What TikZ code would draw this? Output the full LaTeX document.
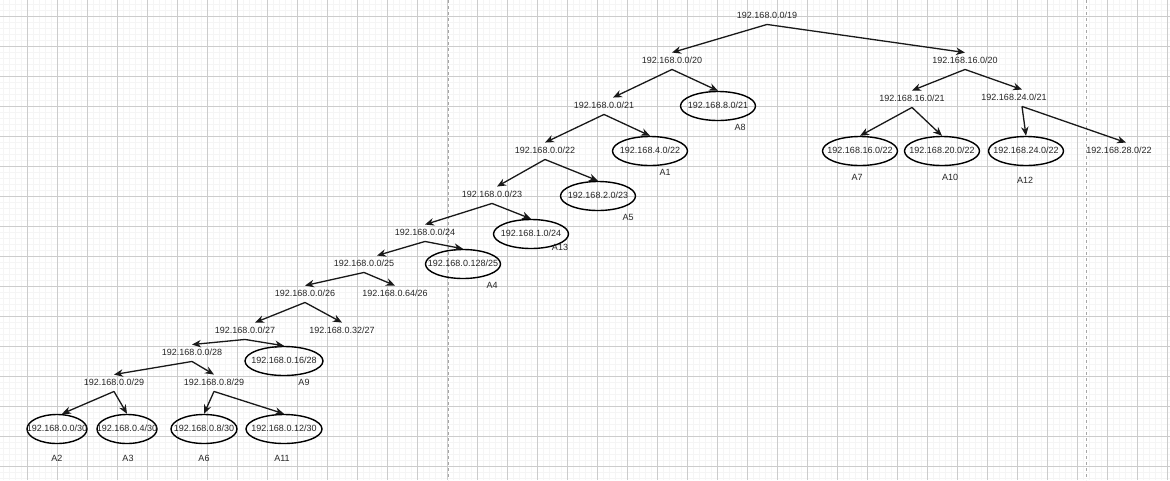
\documentclass[tikz,border=0pt]{standalone}
\usepackage{fontspec}
\setmainfont{Liberation Sans}
\usetikzlibrary{shapes.geometric}
\usetikzlibrary{arrows.meta}
\newcommand{\ipbox}[1]{\makebox[0pt]{#1}}

\begin{document}
\begin{tikzpicture}[x=1pt,y=-1pt,
	pfx/.style={font=\fontsize{9}{10}\selectfont, text=black!85, inner xsep=2pt, inner ysep=4.5pt, text height=6.5pt, text depth=1pt},
	net/.style={pfx, ellipse, draw=black, line width=1.4pt, minimum height=29pt, minimum width=#1, inner sep=0pt},
	net/.default=75pt,
	tag/.style={pfx},
	link/.style={-{Stealth[length=9pt,width=7.5pt]}, line width=1.3pt, black!90},
	minor/.style={draw=black!4, line width=0.5pt},
	major/.style={draw=black!20, line width=0.8pt},
	divider/.style={draw=black!35, dashed, line width=0.8pt}]
	\useasboundingbox (0,0) rectangle (1170,480);
	\fill[white] (0,0) rectangle (1170,480);
	% background grid
	\foreach \gx in {3.3,9.3,...,1170} \draw[minor] (\gx,0) -- (\gx,480);
	\foreach \gy in {4,10,...,480} \draw[minor] (0,\gy) -- (1170,\gy);
	\foreach \gx in {27.3,57.3,...,1170} \draw[major] (\gx,0) -- (\gx,480);
	\foreach \gy in {16,46,...,480} \draw[major] (0,\gy) -- (1170,\gy);
	\draw[divider] (448,0) -- (448,480);
	\draw[divider] (1086,0) -- (1086,480);
	
	% prefixes that are split further
	\node[pfx] (r19) at (767,16) {192.168.0.0/19};
	\node[pfx] (a20) at (672,61) {192.168.0.0/20};
	\node[pfx] (b20) at (965,61) {192.168.16.0/20};
	\node[pfx] (a21) at (604,106) {192.168.0.0/21};
	\node[pfx] (a22) at (545,151) {192.168.0.0/22};
	\node[pfx] (a23) at (492,195) {192.168.0.0/23};
	\node[pfx] (a24) at (425,233) {192.168.0.0/24};
	\node[pfx] (a25) at (364,264) {192.168.0.0/25};
	\node[pfx] (a26) at (305,294) {192.168.0.0/26};
	\node[pfx] (b26) at (395,294) {192.168.0.64/26};
	\node[pfx] (a27) at (245,331) {192.168.0.0/27};
	\node[pfx] (b27) at (342,331) {192.168.0.32/27};
	\node[pfx] (a28) at (192,353) {192.168.0.0/28};
	\node[pfx] (a29) at (114,383) {192.168.0.0/29};
	\node[pfx] (b29) at (214,383) {192.168.0.8/29};
	\node[pfx] (b21) at (912,99) {192.168.16.0/21};
	\node[pfx] (c21) at (1014,98) {192.168.24.0/21};
	\node[pfx] (d22) at (1119,151) {192.168.28.0/22};
	
	% assigned subnets
	\node[net] (n8s21) at (718,106) {\ipbox{192.168.8.0/21}};
	\node[net] (n4s22) at (650,151) {\ipbox{192.168.4.0/22}};
	\node[net] (n2s23) at (598,196) {\ipbox{192.168.2.0/23}};
	\node[net] (n1s24) at (531,234) {\ipbox{192.168.1.0/24}};
	\node[net] (n128s25) at (463,264) {\ipbox{192.168.0.128/25}};
	\node[net=78pt] (n16s28) at (284,361) {\ipbox{192.168.0.16/28}};
	\node[net=60pt] (n0s30) at (57,429) {\ipbox{192.168.0.0/30}};
	\node[net=60pt] (n4s30) at (127,429) {\ipbox{192.168.0.4/30}};
	\node[net=66pt] (n8s30) at (204,429) {\ipbox{192.168.0.8/30}};
	\node[net=76pt] (n12s30) at (284,429) {\ipbox{192.168.0.12/30}};
	\node[net] (n16s22) at (860,151) {\ipbox{192.168.16.0/22}};
	\node[net] (n20s22) at (942,151) {\ipbox{192.168.20.0/22}};
	\node[net] (n24s22) at (1026,151) {\ipbox{192.168.24.0/22}};
	
	% area names
	\node[tag] (t8) at (740,128) {A8};
	\node[tag] (t1) at (665,173) {A1};
	\node[tag] (t5) at (628,218) {A5};
	\node[tag] (t13) at (560,248) {A13};
	\node[tag] (t4) at (492,286) {A4};
	\node[tag] (t9) at (304,383) {A9};
	\node[tag] (t2) at (57,459) {A2};
	\node[tag] (t3) at (128,459) {A3};
	\node[tag] (t6) at (204,459) {A6};
	\node[tag] (t11) at (282,459) {A11};
	\node[tag] (t7) at (857,178) {A7};
	\node[tag] (t10) at (950,178) {A10};
	\node[tag] (t12) at (1025,181) {A12};
	
	% splits
	\draw[link] (r19.south) to (a20.north);
	\draw[link] (r19.south) to (b20.north);
	\draw[link] (a20.south) to ([xshift=9pt]a21.north);
	\draw[link] (a20.south) to (n8s21.north);
	\draw[link] (a21.south) to (a22.north);
	\draw[link] (a21.south) to (n4s22.north);
	\draw[link] (a22.south) to ([xshift=5pt]a23.north);
	\draw[link] (a22.south) to (n2s23.north);
	\draw[link] (a23.south) to (a24.north);
	\draw[link] (a23.south) to (n1s24.north);
	\draw[link] (a24.south) to ([xshift=13pt]a25.north);
	\draw[link] (a24.south) to (n128s25.north);
	\draw[link] (a25.south) to (a26.north);
	\draw[link] (a25.south) to (b26.north);
	\draw[link] (a26.south) to ([xshift=10pt]a27.north);
	\draw[link] (a26.south) to (b27.north);
	\draw[link] (a27.south) to (a28.north);
	\draw[link] (a27.south) to (n16s28.north);
	\draw[link] (a28.south) to (a29.north);
	\draw[link] (a28.south) to (b29.north);
	\draw[link] (a29.south) to ([xshift=5pt]n0s30.north);
	\draw[link] (a29.south) to (n4s30.north);
	\draw[link] (b29.south) to (n8s30.north);
	\draw[link] (b29.south) to (n12s30.north);
	\draw[link] (b20.south) to (b21.north);
	\draw[link] (b20.south) to ([xshift=8pt]c21.north);
	\draw[link] (b21.south) to (n16s22.north);
	\draw[link] (b21.south) to (n20s22.north);
	\draw[link] ([xshift=8pt]c21.south) to (n24s22.north);
	\draw[link] ([xshift=8pt]c21.south) to ([xshift=7pt]d22.north);
	
\end{tikzpicture}
\end{document}
